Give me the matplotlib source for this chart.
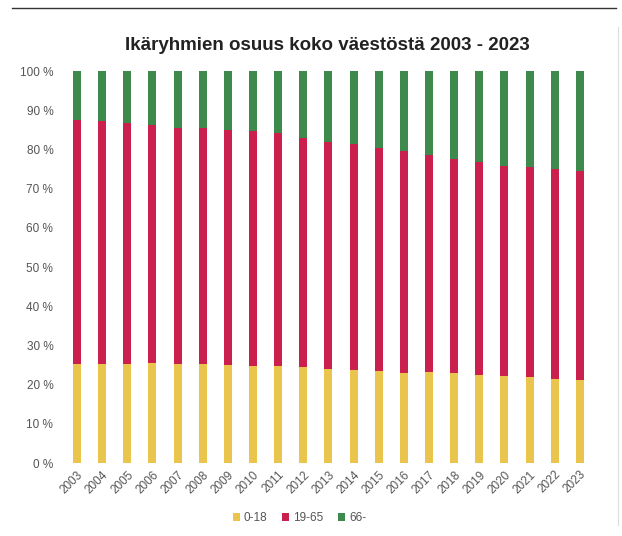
import numpy as np
import matplotlib
matplotlib.use("Agg")
import matplotlib.pyplot as plt
from matplotlib.ticker import FuncFormatter
from matplotlib.lines import Line2D

years = [str(y) for y in range(2003, 2024)]
# osuudet prosentteina (luettu kuvasta)
age_0_18 = [25.4, 25.4, 25.4, 25.5, 25.4, 25.2, 25.1, 24.8, 24.8, 24.5, 24.1,
            23.8, 23.5, 23.1, 23.3, 23.0, 22.6, 22.2, 21.9, 21.5, 21.2]
age_0_65_top = [87.5, 87.2, 86.7, 86.2, 85.4, 85.4, 85.1, 84.7, 84.2, 83.0, 82.0,
                81.5, 80.3, 79.7, 78.6, 77.7, 76.9, 75.9, 75.6, 75.0, 74.5]
age_19_65 = [t - a for t, a in zip(age_0_65_top, age_0_18)]
age_66 = [100 - t for t in age_0_65_top]

labels = ["0-18", "19-65", "66-"]
colors = ["#EAC54E", "#CB1F4D", "#3D8A4C"]

plt.rcParams['font.family'] = ['Liberation Sans', 'DejaVu Sans']

fig = plt.figure(figsize=(6.22, 5.36), dpi=100)
ax = fig.add_axes([0.1035, 0.136, 0.849, 0.7313])

x = np.arange(len(years))
w = 0.32
ax.bar(x, age_0_18, w, color=colors[0], label=labels[0])
ax.bar(x, age_19_65, w, bottom=age_0_18, color=colors[1], label=labels[1])
ax.bar(x, age_66, w, bottom=age_0_65_top, color=colors[2], label=labels[2])

ax.set_xlim(-0.5, len(years) - 0.5)
ax.set_ylim(0, 100)
ax.set_yticks(np.arange(0, 101, 10))
ax.yaxis.set_major_formatter(FuncFormatter(lambda v, p: "%d %%" % v))
ax.set_xticks(x)
ax.set_xticklabels(years, rotation=45, ha="right", rotation_mode="anchor")
ax.tick_params(axis="both", length=0, labelsize=8.5, labelcolor="#555555")
ax.tick_params(axis="y", pad=8)
ax.tick_params(axis="x", pad=4)
for s in ax.spines.values():
    s.set_visible(False)

fig.text(0.527, 0.916, "Ikäryhmien osuus koko väestöstä 2003 - 2023",
         ha="center", va="center", fontsize=13.5, fontweight="bold", color="#222222")

ax.legend(loc="center", bbox_to_anchor=(0.445, -0.14), ncol=3, frameon=False,
          fontsize=8.5, handlelength=0.6, handleheight=0.6, handletextpad=0.3,
          columnspacing=1.3, labelcolor="#555555")

# kehys ylhäällä ja oikealla
fig.add_artist(Line2D([0.02, 0.99], [0.985, 0.985], color="#333333", lw=1.0))
fig.add_artist(Line2D([0.994, 0.994], [0.02, 0.95], color="#dddddd", lw=0.8))

fig.savefig("out.png", dpi=100)
